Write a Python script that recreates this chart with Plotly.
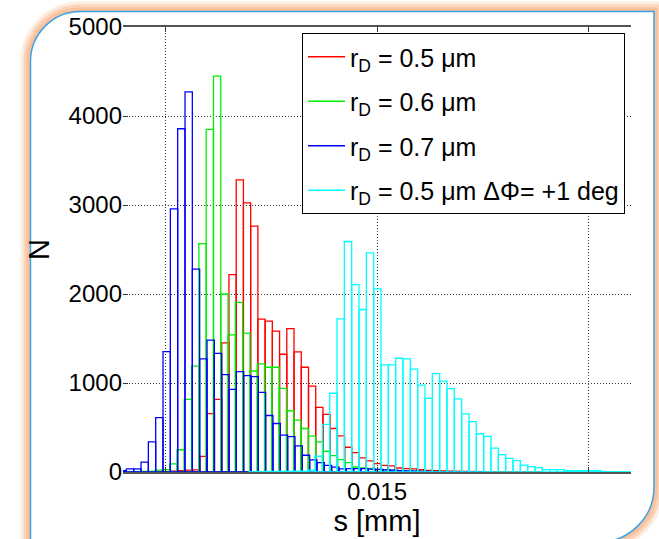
import plotly.graph_objects as go

# histogram bins of s [mm]: left edge of the first bin and bin width per series
red_start, red_width = 0.008941, 0.0001708
green_start, green_width = 0.008896, 0.0001724
blue_start, blue_width = 0.008906, 0.0001732
cyan_start, cyan_width = 0.011977, 0.0001732

# counts per bin
red_counts = [0, 0, 0, 1, 2, 3, 5, 10, 15, 20, 25, 175, 655, 815, 1450, 2217,
              3282, 3023, 2762, 1718, 1696, 1583, 1323, 1612, 1350, 1177, 966,
              726, 647, 489, 406, 278, 218, 158, 124, 94, 75, 68, 45, 38, 34,
              26, 19, 15, 12, 10, 8, 7, 6, 5, 4, 3, 3, 2, 2, 1, 1, 1]
green_counts = [2, 3, 5, 6, 8, 22, 26, 92, 250, 815, 1190, 2565, 3850, 4447,
                2000, 1540, 1907, 1560, 1135, 1214, 1177, 1177, 940, 688, 583,
                489, 402, 338, 233, 184, 139, 105, 56, 45, 41, 26, 26, 18, 14,
                10, 8, 7, 6, 5, 4, 3, 3, 2, 2, 1, 1]
blue_counts = [15, 34, 34, 110, 338, 610, 1352, 2957, 3857, 4270, 2280, 1270,
               1482, 1333, 1095, 928, 1128, 1083, 1071, 895, 635, 545, 414, 398,
               293, 188, 137, 105, 75, 55, 35, 38, 38, 38, 32, 30, 25, 20, 15,
               12, 10, 8, 6, 5, 4, 3, 2, 2, 1, 1]
cyan_counts = [3, 5, 7, 6, 8, 8, 10, 10, 22, 177, 535, 885, 1720, 2590, 2105,
               1826, 2463, 2058, 1204, 1204, 1278, 1270, 1156, 977, 828, 1105,
               1020, 937, 821, 652, 566, 430, 401, 268, 195, 153, 128, 78, 60,
               49, 26, 26, 26, 15, 15, 15, 15, 15, 5, 4, 3, 3, 2, 2, 2, 1, 1]

labels = ['r<sub>D</sub> = 0.5 \u03bcm',
          'r<sub>D</sub> = 0.6 \u03bcm',
          'r<sub>D</sub> = 0.7 \u03bcm',
          'r<sub>D</sub> = 0.5 \u03bcm \u0394\u03a6= +1 deg']
colors = ['#ff0000', '#00ee00', '#0000ff', '#00ffff']

series = [(red_start, red_width, red_counts),
          (green_start, green_width, green_counts),
          (blue_start, blue_width, blue_counts),
          (cyan_start, cyan_width, cyan_counts)]

W, H = 659, 539
ML, MR, MT, MB = 123, 28, 27, 67
PW, PH = W - ML - MR, H - MT - MB


def px(x, y):
    # pixel position -> paper coords
    return (x - ML) / PW, (H - MB - y) / PH


def path(points):
    # points: list of ('M'|'L'|'C', [(x, y), ...]) in pixels
    out = ''
    for cmd, pts in points:
        out += cmd + ' ' + ' '.join('%.5f,%.5f' % px(*p) for p in pts) + ' '
    return out


fig = go.Figure()

for (start, w, counts), c in zip(series, colors):
    centers = [start + (i + 0.5) * w for i in range(len(counts))]
    fig.add_trace(go.Bar(x=centers, y=counts, width=w,
                         marker=dict(color='rgba(0,0,0,0)', line=dict(color=c, width=1.3)),
                         showlegend=False, hoverinfo='skip'))

# legend entries drawn as lines like in matlab
for i, (name, c) in enumerate(zip(labels, colors)):
    fig.add_trace(go.Scatter(x=[None], y=[None], mode='lines', name=name,
                             line=dict(color=c, width=1.3), legendgroup=str(i)))

# card frame around the figure
k = 0.5523
R1, R2 = 50, 55
frame_open = [('M', [(30.5, 600)]), ('L', [(30.5, 11.5 + R1)]),
              ('C', [(30.5, 11.5 + R1 - k * R1), (30.5 + R1 - k * R1, 11.5), (30.5 + R1, 11.5)]),
              ('L', [(654, 11.5)]), ('L', [(654, 487)]),
              ('C', [(654, 487 + k * R2), (654 - R2 + k * R2, 487 + R2), (654 - R2, 487 + R2)]),
              ('L', [(30.5, 487 + R2)])]
frame_d = path(frame_open)
shapes = []
for wd, col in [(20, 'rgba(250,200,165,0.35)'), (14, 'rgba(248,185,140,0.45)'),
                (8, 'rgba(247,175,125,0.5)')]:
    shapes.append(dict(type='path', xref='paper', yref='paper', path=frame_d + 'Z',
                       line=dict(color=col, width=wd), layer='below'))
shapes.append(dict(type='path', xref='paper', yref='paper', path=frame_d + 'Z',
                   fillcolor='white', line=dict(width=0), layer='below'))
shapes.append(dict(type='path', xref='paper', yref='paper', path=frame_d + 'Z',
                   line=dict(color='#3da2e6', width=1.5), layer='below'))

font = dict(family='Liberation Sans, Arial', size=24, color='black')

fig.update_layout(
    width=W, height=H,
    margin=dict(l=ML, r=MR, t=MT, b=MB, autoexpand=False),
    paper_bgcolor='white', plot_bgcolor='white',
    barmode='overlay', font=font, shapes=shapes,
    legend=dict(x=px(625, 0)[0], y=px(0, 33)[1], xanchor='right', yanchor='top',
                bgcolor='white', bordercolor='black', borderwidth=1,
                font=dict(family='Liberation Sans, Arial', size=25, color='black'),
                tracegroupgap=9, itemwidth=37),
    xaxis=dict(range=[0.009, 0.021], tickvals=[0.01, 0.015, 0.02],
               ticktext=['', '0.015', ''], ticks='inside', ticklen=5,
               tickcolor='#333', showline=True, linecolor='#555', linewidth=2,
               mirror='ticks', showgrid=True, gridcolor='#333', griddash='1px,2px',
               gridwidth=1, zeroline=False, ticklabelstandoff=-3,
               title=dict(text='s [mm]', standoff=0)),
    yaxis=dict(range=[0, 5000], tickvals=[0, 1000, 2000, 3000, 4000, 5000],
               ticks='inside', ticklen=5, tickcolor='#333', showline=False,
               showgrid=True, gridcolor='#333', griddash='1px,2px', gridwidth=1,
               zeroline=False, title=dict(text='N', standoff=10)),
    yaxis2=dict(range=[0, 5000], tickvals=[0, 1000, 2000, 3000, 4000, 5000],
                overlaying='y', side='right', anchor='x', ticks='inside',
                ticklen=5, tickcolor='#333', showticklabels=False,
                showline=True, linecolor='#222', linewidth=1.3, showgrid=False,
                zeroline=False),
)

fig.write_html("out.html", config={'displayModeBar': False},
               post_script="document.body.style.margin='0';")
